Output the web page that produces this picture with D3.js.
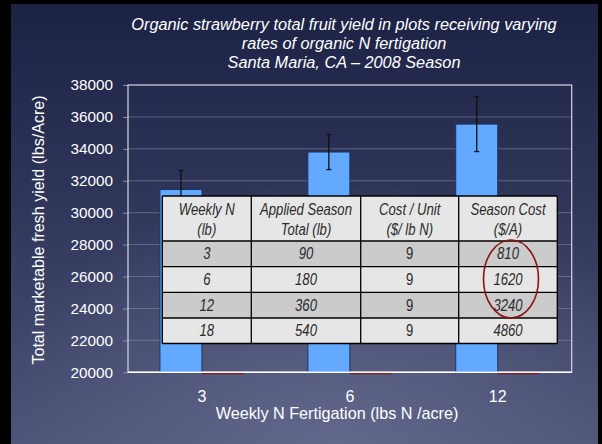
<!DOCTYPE html>
<html>
<head>
<meta charset="utf-8">
<script src="https://cdn.jsdelivr.net/npm/d3@7"></script>
<style>
  html, body { margin: 0; padding: 0; background: #000; }
  svg { display: block; }
  text { font-family: "Liberation Sans", Arial, sans-serif; }
  .tbl { font-family: "Liberation Sans", Arial, sans-serif; font-style: italic; fill: #2a2a2a; }
</style>
</head>
<body>
<svg width="602" height="444"></svg>
<script>

// chart data
const rates      = ["3", "6", "12"];
const series     = ["yield", "cost"];
const yieldMean  = [31450, 33800, 35550];
const yieldErr   = [1200, 1100, 1720];
const costBar    = [810, 1620, 3240];   // drawn below the axis minimum, shows as a red line
const yTicks     = [20000, 22000, 24000, 26000, 28000, 30000, 32000, 34000, 36000, 38000];

// table data
const tblHeader  = [["Weekly N", "(lb)"], ["Applied Season", "Total (lb)"], ["Cost / Unit", "($/ lb N)"], ["Season Cost", "($/A)"]];
const tblWeekly  = ["3", "6", "12", "18"];
const tblApplied = ["90", "180", "360", "540"];
const tblUnit    = ["9", "9", "9", "9"];
const tblSeason  = ["810", "1620", "3240", "4860"];

const titleLines = ["Organic strawberry total fruit yield in plots receiving varying",
                    "rates of organic N fertigation",
                    "Santa Maria, CA \u2013 2008 Season"];

const svg    = d3.select("svg");
const width  = 602;
const height = 444;

const plot = {left: 128, right: 571.7, top: 85, bottom: 372.3};

// background
const defs = svg.append("defs");
const lg = defs.append("linearGradient").attr("id", "bg").attr("x1", 0).attr("y1", 0).attr("x2", 0).attr("y2", 1);
lg.append("stop").attr("offset", "0%").attr("stop-color", "#1b2244");
lg.append("stop").attr("offset", "45%").attr("stop-color", "#2f365a");
lg.append("stop").attr("offset", "100%").attr("stop-color", "#4d5377");
const rg = defs.append("radialGradient").attr("id", "glow")
  .attr("cx", 0.55).attr("cy", 1.0).attr("r", 0.6);
rg.append("stop").attr("offset", "0%").attr("stop-color", "#6a7194").attr("stop-opacity", 0.7);
rg.append("stop").attr("offset", "100%").attr("stop-color", "#6a7194").attr("stop-opacity", 0);

svg.append("rect").attr("width", width).attr("height", height).attr("fill", "#000");
svg.append("rect").attr("x", 11).attr("y", 4).attr("width", 587).attr("height", 440).attr("fill", "url(#bg)");
svg.append("rect").attr("x", 11).attr("y", 4).attr("width", 587).attr("height", 440).attr("fill", "url(#glow)");

// title
svg.append("g").selectAll("text")
  .data(titleLines)
  .enter()
  .append("text")
  .attr("x", 344)
  .attr("y", (d, i) => 30 + i * 19.2)
  .attr("text-anchor", "middle")
  .attr("font-size", 16.3)
  .attr("font-style", "italic")
  .attr("fill", "#fff")
  .text(d => d);

// scales
const y = d3.scaleLinear().domain([20000, 38000]).range([plot.bottom, plot.top]);
const x0 = d3.scaleBand().domain(rates).range([plot.left, plot.right])
  .paddingInner(0.432).paddingOuter(0.216);
const x1 = d3.scaleBand().domain(series).range([0, x0.bandwidth()]);

// gridlines
svg.append("g").selectAll("line")
  .data(yTicks.slice(1, -1))
  .enter()
  .append("line")
  .attr("x1", plot.left).attr("x2", plot.right)
  .attr("y1", d => y(d)).attr("y2", d => y(d))
  .attr("stroke", "#8a8fa8").attr("stroke-opacity", 0.55).attr("stroke-width", 1);

// y axis
const yAxis = svg.append("g")
  .attr("transform", `translate(${plot.left},0)`)
  .call(d3.axisLeft(y).tickValues(yTicks).tickFormat(d3.format("d")).tickSize(5).tickPadding(10));
yAxis.select(".domain").remove();
yAxis.selectAll(".tick line").attr("stroke", "#8a8fa8");
yAxis.selectAll(".tick text").attr("fill", "#fff").attr("font-size", 15.3)
  .attr("font-family", "'Liberation Sans', Arial, sans-serif");

// plot frame
svg.append("rect")
  .attr("x", plot.left).attr("y", plot.top)
  .attr("width", plot.right - plot.left).attr("height", plot.bottom - plot.top)
  .attr("fill", "none").attr("stroke", "#d8d8e0").attr("stroke-width", 1.2);

// bars
const groups = svg.append("g").selectAll("g")
  .data(rates)
  .enter()
  .append("g")
  .attr("transform", d => `translate(${x0(d)},0)`);

groups.append("rect")
  .attr("x", x1("yield"))
  .attr("y", (d, i) => y(yieldMean[i]))
  .attr("width", x1.bandwidth())
  .attr("height", (d, i) => plot.bottom - y(yieldMean[i]))
  .attr("fill", "#62a9ff")
  .attr("stroke", "#1c3560")
  .attr("stroke-width", 1);

// cost series sits below the axis minimum
groups.append("line")
  .attr("x1", x1("cost")).attr("x2", x1("cost") + x1.bandwidth())
  .attr("y1", (d, i) => Math.min(y(Math.max(costBar[i], 20000)), plot.bottom) + 1.2)
  .attr("y2", (d, i) => Math.min(y(Math.max(costBar[i], 20000)), plot.bottom) + 1.2)
  .attr("stroke", "#8e1b1b").attr("stroke-width", 1.6);

// error bars
const eb = groups.append("g")
  .attr("transform", `translate(${x1("yield") + x1.bandwidth() / 2},0)`);
eb.append("line")
  .attr("y1", (d, i) => y(yieldMean[i] + yieldErr[i]))
  .attr("y2", (d, i) => y(yieldMean[i] - yieldErr[i]))
  .attr("stroke", "#111").attr("stroke-width", 1.3);
[1, -1].forEach(s => {
  eb.append("line")
    .attr("x1", -2.5).attr("x2", 2.5)
    .attr("y1", (d, i) => y(yieldMean[i] + s * yieldErr[i]))
    .attr("y2", (d, i) => y(yieldMean[i] + s * yieldErr[i]))
    .attr("stroke", "#111").attr("stroke-width", 1.3);
});

// bottom axis line
svg.append("line")
  .attr("x1", plot.left).attr("x2", plot.right)
  .attr("y1", plot.bottom).attr("y2", plot.bottom)
  .attr("stroke", "#fff").attr("stroke-width", 1.6);

// x tick labels
svg.append("g").selectAll("text")
  .data(rates)
  .enter()
  .append("text")
  .attr("x", d => x0(d) + x0.bandwidth() / 2)
  .attr("y", 402)
  .attr("text-anchor", "middle")
  .attr("font-size", 16)
  .attr("fill", "#fff")
  .text(d => d);

// axis titles
svg.append("text")
  .attr("x", 337).attr("y", 419)
  .attr("text-anchor", "middle")
  .attr("font-size", 16.2)
  .attr("fill", "#fff")
  .text("Weekly N Fertigation (lbs N /acre)");

svg.append("text")
  .attr("transform", "translate(44,230) rotate(-90)")
  .attr("text-anchor", "middle")
  .attr("font-size", 16.1)
  .attr("fill", "#fff")
  .text("Total marketable fresh yield (lbs/Acre)");

// table overlay
const colX  = [162.3, 251.3, 360.7, 458.7, 557.3];
const rowY  = [196, 241, 266.7, 292.3, 318, 343.5];
const rows  = tblWeekly.map((d, i) => [d, tblApplied[i], tblUnit[i], tblSeason[i]]);
const tbl   = svg.append("g");

tbl.selectAll("rect.row")
  .data(d3.range(rowY.length - 1))
  .enter()
  .append("rect")
  .attr("class", "row")
  .attr("x", colX[0]).attr("width", colX[4] - colX[0])
  .attr("y", i => rowY[i]).attr("height", i => rowY[i + 1] - rowY[i])
  .attr("fill", i => (i % 2 === 1) ? "#cbcbcb" : "#e6e6e6");

tbl.selectAll("line.h")
  .data(rowY)
  .enter()
  .append("line")
  .attr("x1", colX[0]).attr("x2", colX[4])
  .attr("y1", d => d).attr("y2", d => d)
  .attr("stroke", "#000").attr("stroke-width", 1.3);

tbl.selectAll("line.v")
  .data(colX)
  .enter()
  .append("line")
  .attr("y1", rowY[0]).attr("y2", rowY[rowY.length - 1])
  .attr("x1", d => d).attr("x2", d => d)
  .attr("stroke", "#000").attr("stroke-width", 1.3);

const colMid = i => (colX[i] + colX[i + 1]) / 2;
// the slide font is a condensed one, squeeze it horizontally
const squeeze = 0.82;

tblHeader.forEach((lines, c) => {
  lines.forEach((t, k) => {
    tbl.append("text")
      .attr("class", "tbl")
      .attr("transform", `translate(${colMid(c)},${215 + k * 20}) scale(${squeeze},1)`)
      .attr("text-anchor", "middle")
      .attr("font-size", 16)
      .text(t);
  });
});

rows.forEach((r, ri) => {
  r.forEach((t, c) => {
    tbl.append("text")
      .attr("class", "tbl")
      .attr("transform", `translate(${colMid(c)},${(rowY[ri + 1] + rowY[ri + 2]) / 2 + 5.5}) scale(${squeeze},1)`)
      .attr("text-anchor", "middle")
      .attr("font-size", 16)
      .style("font-style", c === 2 ? "normal" : "italic")
      .text(t);
  });
});

// red ellipse round the season cost of the charted rates
tbl.append("ellipse")
  .attr("cx", 511).attr("cy", 279)
  .attr("rx", 27.5).attr("ry", 39)
  .attr("fill", "none")
  .attr("stroke", "#8a1414")
  .attr("stroke-width", 1.6);

</script>
</body>
</html>
